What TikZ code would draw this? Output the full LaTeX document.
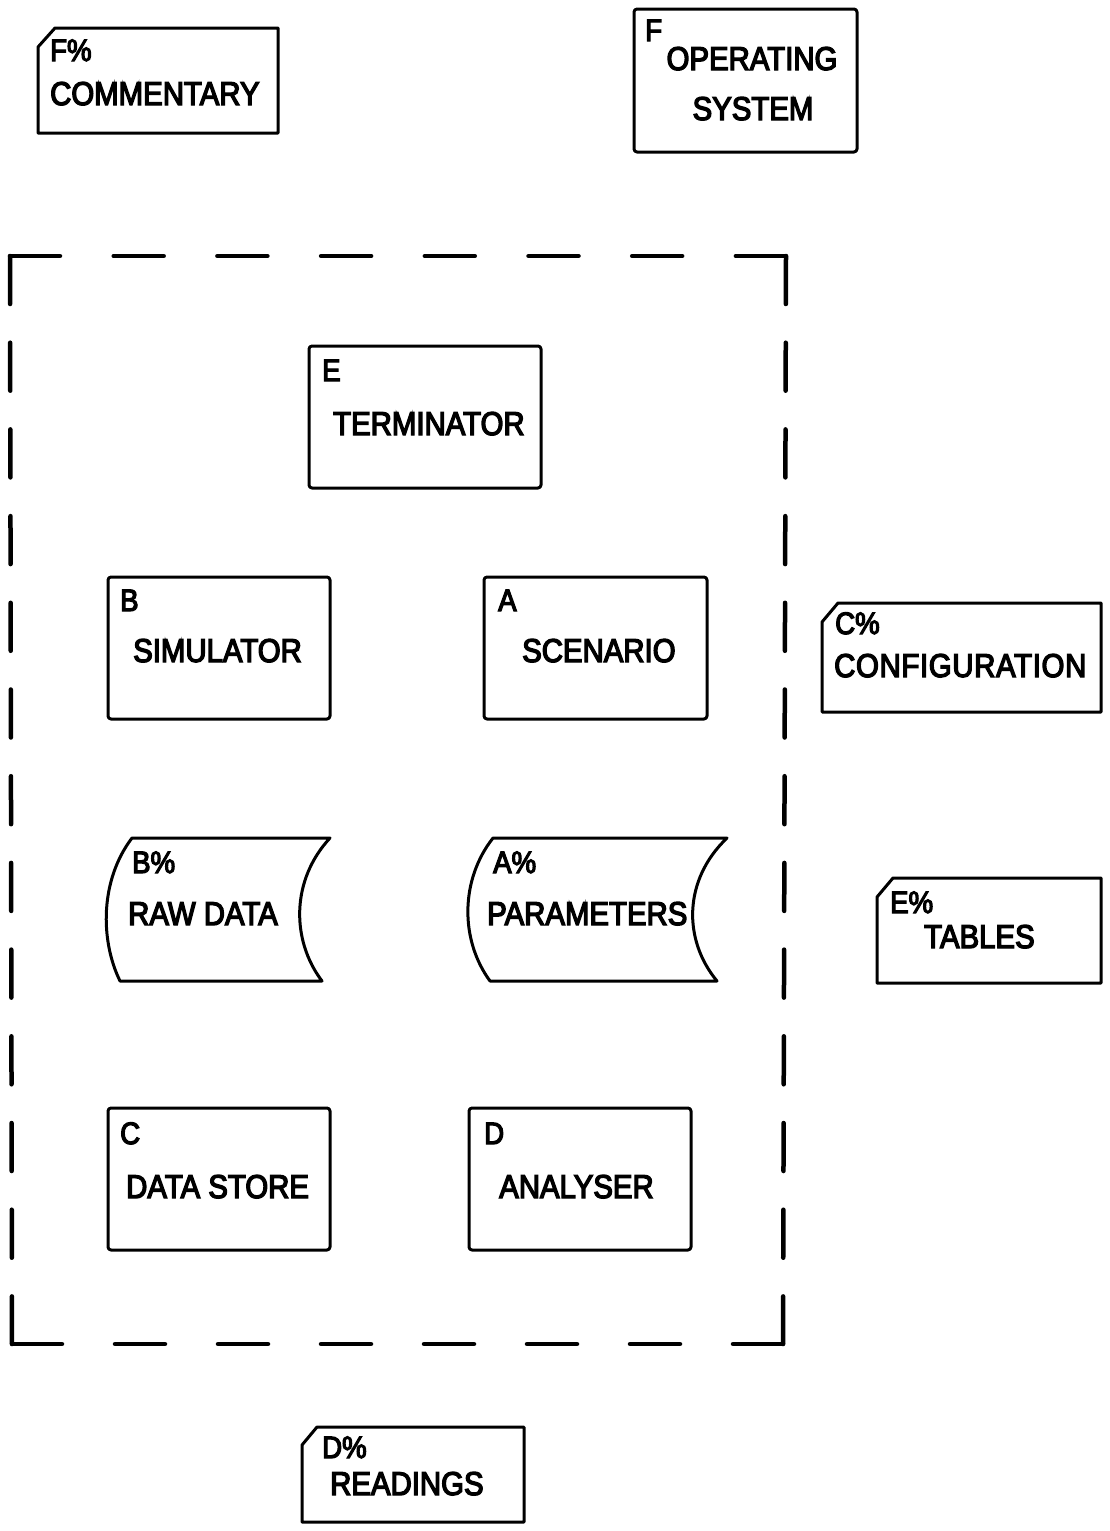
\documentclass[tikz,border=0pt]{standalone}
\usepackage{fontspec}
\setmainfont{Liberation Sans}[FakeStretch=0.89,FakeBold=4]
\begin{document}
\begin{tikzpicture}[x=1pt,y=-1pt,
  ln/.style={line width=3pt, line join=round},
  box/.style={draw, ln, rounded corners=3pt, inner sep=0pt},
  bnd/.style={line width=4.5pt, line cap=round},
  big/.style={inner sep=0pt, font=\fontsize{33}{36}\selectfont},
  lab/.style={inner sep=0pt, anchor=base west, font=\fontsize{31}{33}\selectfont}]
\useasboundingbox (0,0) rectangle (1110,1531);

% boundary (dashed)
\coordinate (b1) at (10,256);
\coordinate (b2) at (786,256);
\coordinate (b3) at (783,1344);
\coordinate (b4) at (12,1344);
\draw[bnd, dash pattern=on 50pt off 53.7pt] (b1) -- (b2);
\draw[bnd, dash pattern=on 48pt off 38.7pt] (b2) -- (b3);
\draw[bnd, dash pattern=on 50pt off 53pt] (b4) -- (b3);
\draw[bnd, dash pattern=on 48pt off 38.7pt] (b1) -- (b4);

% F% COMMENTARY card
\draw[ln] (55,28) -- (278,28) -- (278,133) -- (38,133) -- (38,47) -- cycle;
\node[lab] (fpc) at (50,61) {F\%};
\node[big, anchor=base west] (comm) at (50,105) {COMMENTARY};

% F OPERATING SYSTEM
\node[box, minimum width=223pt, minimum height=143pt] (os) at (745.5,80.5) {};
\node[lab] (fl) at (645,41) {F};
\node[big, anchor=base] (op1) at (752,70) {OPERATING};
\node[big, anchor=base] (op2) at (753,120) {SYSTEM};

% E TERMINATOR
\node[box, minimum width=232pt, minimum height=142pt] (term) at (425,417) {};
\node[lab] (el) at (322,381) {E};
\node[big, anchor=base west] (termt) at (333,435) {TERMINATOR};

% B SIMULATOR
\node[box, minimum width=222pt, minimum height=142pt] (sim) at (219,648) {};
\node[lab] (bl) at (120,611) {B};
\node[big, anchor=base west] (simt) at (133,662) {SIMULATOR};

% A SCENARIO
\node[box, minimum width=223pt, minimum height=142pt] (scen) at (595.5,648) {};
\node[lab] (al) at (498,611) {A};
\node[big, anchor=base west] (scent) at (522,662) {SCENARIO};

% C% CONFIGURATION card
\draw[ln] (838,603) -- (1101,603) -- (1101,712) -- (822,712) -- (822,622) -- cycle;
\node[lab] (cpc) at (835,634) {C\%};
\node[big, anchor=base west] (conf) at (834,677) {\addfontfeature{LetterSpace=2}CONFIGURATION};

% B% RAW DATA tape
\draw[ln] (132,838) -- (330,838) .. controls (291,880) and (291,940) .. (322,981)
  -- (120,981) .. controls (100,940) and (100,880) .. cycle;
\node[lab] (bpc) at (132,873) {B\%};
\node[big, anchor=base west] (raw) at (128,925) {RAW DATA};

% A% PARAMETERS tape
\draw[ln] (493,838) -- (727,838) .. controls (683,880) and (683,940) .. (717,981)
  -- (490,981) .. controls (460,940) and (460,880) .. cycle;
\node[lab] (apc) at (493,873) {A\%};
\node[big, anchor=base west] (par) at (487,925) {PARAMETERS};

% E% TABLES card
\draw[ln] (893,878) -- (1101,878) -- (1101,983) -- (877,983) -- (877,897) -- cycle;
\node[lab] (epc) at (890,913) {E\%};
\node[big, anchor=base west] (tab) at (924,948) {TABLES};

% C DATA STORE
\node[box, minimum width=222pt, minimum height=142pt] (ds) at (219,1179) {};
\node[lab] (cl) at (120,1144) {C};
\node[big, anchor=base west] (dst) at (126,1198) {DATA STORE};

% D ANALYSER
\node[box, minimum width=222pt, minimum height=142pt] (an) at (580,1179) {};
\node[lab] (dl) at (484,1144) {D};
\node[big, anchor=base west] (ant) at (499,1198) {ANALYSER};

% D% READINGS card
\draw[ln] (317,1427) -- (524,1427) -- (524,1522) -- (302,1522) -- (302,1445) -- cycle;
\node[lab] (dpc) at (322,1458) {D\%};
\node[big, anchor=base west] (rd) at (330,1495) {READINGS};
\end{tikzpicture}
\end{document}
